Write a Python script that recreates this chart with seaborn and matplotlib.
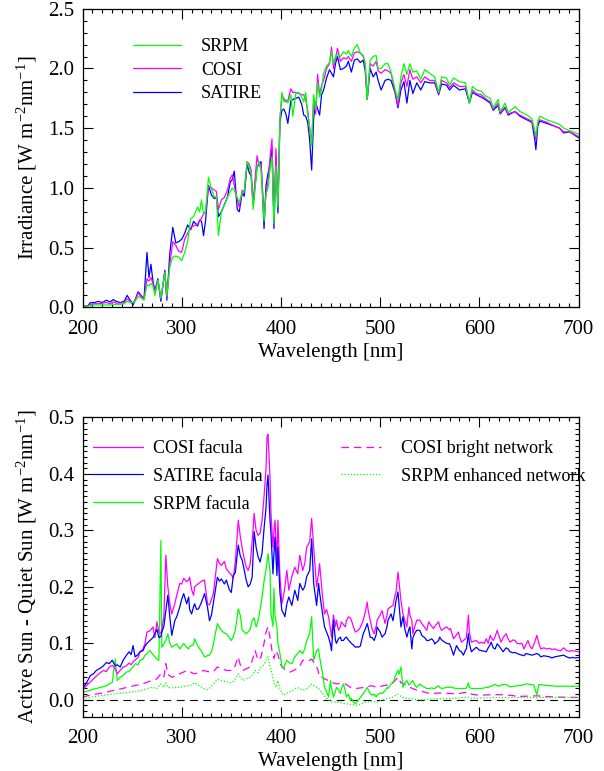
import matplotlib
matplotlib.use('Agg')
import matplotlib.pyplot as plt
from matplotlib.ticker import MultipleLocator, FormatStrFormatter
import seaborn as sns

# ---- top panel: spectral irradiance of the three reconstructions ----
wl_top = [200, 205, 208, 212, 216, 220, 224, 228, 231, 234,
          238, 242, 245, 248, 251, 253, 256, 259, 262, 265,
          267, 269, 271, 273, 276, 279, 283, 285, 288, 291,
          294, 297, 300, 303, 306, 309, 312, 316, 318, 320,
          322, 324, 327, 330, 333, 335, 337, 340, 343, 346,
          349, 351, 353, 356, 358, 361, 363, 366, 368, 370,
          372, 374, 376, 378, 380, 383, 385, 387, 389, 391,
          393, 395, 397, 399, 401, 403, 405, 407, 410, 412,
          415, 418, 421, 423, 425, 427, 429, 431, 433, 435,
          437, 439, 441, 443, 446, 449, 451, 453, 455, 457,
          460, 463, 466, 468, 471, 474, 477, 480, 483, 485,
          487, 490, 493, 496, 498, 501, 505, 508, 511, 515,
          518, 521, 524, 527, 530, 533, 537, 541, 545, 550,
          555, 559, 562, 567, 570, 574, 580, 586, 590, 593,
          597, 602, 606, 611, 614, 619, 621, 626, 629, 636,
          641, 648, 653, 656, 657, 659, 661, 668, 675, 681,
          685, 691, 700]

satire_top = [.01, .01, .04, .04, .05, .04, .06, .045, .065, .05,
              .04, .05, .10, .06, .02, .06, .13, .10, .07, .46,
              .25, .36, .22, .14, .24, .05, .31, .06, .45, .67,
              .54, .55, .57, .62, .69, .65, .72, .68, .73, .72,
              .60, .72, 1.02, .94, .91, .92, .76, .80, .86, .92,
              1.05, 1.07, 1.14, .82, .80, .96, .93, 1.20, 1.13, 1.10,
              .86, 1.02, 1.18, 1.20, 1.22, .66, 1.02, 1.12, 1.20, 1.34,
              .66, 1.26, .79, 1.55, 1.65, 1.66, 1.62, 1.54, 1.73, 1.74,
              1.75, 1.76, 1.70, 1.61, 1.60, 1.55, 1.40, 1.15, 1.58, 1.72,
              1.66, 1.61, 1.78, 1.82, 1.92, 1.99, 1.96, 1.93, 2.04, 2.10,
              1.99, 2.00, 2.02, 2.06, 1.97, 2.07, 2.08, 2.05, 2.07, 1.98,
              1.74, 2.00, 1.93, 1.97, 1.90, 1.82, 1.90, 1.91, 1.90, 1.80,
              1.67, 1.82, 1.89, 1.71, 1.90, 1.79, 1.88, 1.82, 1.89, 1.88,
              1.88, 1.78, 1.87, 1.86, 1.82, 1.86, 1.82, 1.83, 1.71, 1.80,
              1.78, 1.76, 1.74, 1.71, 1.65, 1.69, 1.62, 1.67, 1.61, 1.64,
              1.60, 1.57, 1.55, 1.40, 1.32, 1.52, 1.56, 1.54, 1.52, 1.50,
              1.46, 1.47, 1.42]

cosi_top = [.01, .01, .025, .03, .03, .035, .04, .03, .045, .035,
            .035, .04, .07, .05, .04, .06, .12, .09, .07, .24,
            .22, .25, .20, .13, .22, .07, .30, .08, .36, .55,
            .52, .47, .46, .57, .62, .67, .68, .70, .72, .75,
            .78, .80, 1.01, 1.00, .98, .97, .82, .90, .92, .98,
            1.08, 1.11, 1.02, .90, .84, .98, .96, 1.22, 1.20, 1.15,
            .86, 1.08, 1.27, 1.18, 1.20, .78, .95, 1.05, 1.25, 1.41,
            .72, 1.33, .86, 1.58, 1.77, 1.75, 1.72, 1.73, 1.83, 1.80,
            1.80, 1.79, 1.78, 1.78, 1.74, 1.65, 1.50, 1.37, 1.74, 1.62,
            1.95, 1.78, 1.86, 1.90, 2.00, 2.04, 2.18, 2.00, 2.08, 2.17,
            2.06, 2.09, 2.08, 2.10, 2.06, 2.13, 2.14, 2.13, 2.10, 2.04,
            1.75, 2.04, 2.02, 2.06, 1.98, 1.96, 1.99, 1.98, 1.96, 1.81,
            1.69, 1.88, 1.95, 1.85, 1.99, 1.91, 1.93, 1.88, 1.93, 1.90,
            1.90, 1.79, 1.90, 1.88, 1.84, 1.88, 1.85, 1.85, 1.72, 1.82,
            1.79, 1.78, 1.75, 1.72, 1.66, 1.71, 1.63, 1.68, 1.62, 1.64,
            1.61, 1.58, 1.56, 1.45, 1.40, 1.55, 1.57, 1.55, 1.52, 1.50,
            1.47, 1.47, 1.43]

srpm_top = [.01, .01, .015, .02, .02, .02, .02, .02, .025, .025,
            .025, .03, .05, .04, .04, .05, .09, .08, .06, .19,
            .18, .20, .18, .10, .23, .08, .29, .10, .34, .42,
            .43, .42, .39, .46, .55, .74, .76, .84, .80, .90,
            .78, .80, 1.09, .99, .92, .93, .60, .80, .86, .92,
            .97, 1.00, .98, .92, .88, .96, .98, 1.22, 1.18, 1.12,
            .82, 1.00, 1.18, 1.22, 1.14, .72, .95, 1.00, 1.15, 1.26,
            .70, 1.18, .84, 1.57, 1.80, 1.72, 1.74, 1.71, 1.78, 1.60,
            1.79, 1.80, 1.76, 1.72, 1.80, 1.62, 1.50, 1.35, 1.78, 1.66,
            1.88, 1.76, 1.83, 1.96, 2.02, 2.05, 2.14, 2.04, 2.10, 2.12,
            2.10, 2.14, 2.12, 2.15, 2.10, 2.17, 2.20, 2.13, 2.11, 2.04,
            1.74, 2.07, 2.10, 2.11, 2.00, 2.00, 2.04, 2.04, 1.97, 1.83,
            1.74, 1.93, 2.04, 1.95, 2.04, 1.97, 1.98, 1.91, 1.99, 1.96,
            1.93, 1.80, 1.93, 1.92, 1.86, 1.92, 1.89, 1.88, 1.71, 1.85,
            1.82, 1.81, 1.77, 1.75, 1.67, 1.74, 1.64, 1.71, 1.63, 1.68,
            1.64, 1.61, 1.58, 1.48, 1.43, 1.56, 1.60, 1.57, 1.55, 1.53,
            1.50, 1.48, 1.45]

# ---- bottom panel: active minus quiet sun ----
wl_fac = [200, 204, 208, 211, 214, 218, 221, 224, 227, 230,
          233, 235, 238, 241, 244, 247, 249, 251, 253, 256,
          258, 261, 263, 265, 268, 271, 273, 275, 277, 279,
          280, 282, 284, 286, 288, 290, 293, 295, 298, 300,
          302, 305, 307, 308, 310, 312, 313, 315, 317, 320,
          323, 326, 328, 330, 332, 334, 336, 338, 340, 343,
          345, 348, 350, 352, 354, 357, 359, 361, 363, 365,
          367, 369, 371, 373, 375, 377, 379, 381, 383, 385,
          386, 387, 389, 390, 392, 393, 394, 396, 397, 399,
          401, 403, 404, 406, 408, 411, 414, 417, 419, 422,
          424, 426, 429, 431, 433, 436, 438, 439, 442, 444,
          446, 448, 450, 451, 453, 455, 456, 458, 460, 461,
          463, 465, 466, 468, 470, 471, 473, 475, 477, 478,
          480, 483, 485, 487, 488, 490, 492, 494, 496, 497,
          500, 502, 505, 507, 508, 511, 513, 515, 516, 518,
          519, 521, 523, 525, 527, 529, 530, 532, 533, 535,
          537, 540, 542, 545, 547, 549, 552, 554, 555, 559,
          560, 562, 565, 567, 570, 571, 574, 577, 579, 580,
          582, 584, 586, 587, 589, 590, 592, 595, 597, 600,
          602, 605, 607, 609, 611, 612, 614, 616, 618, 620,
          622, 624, 627, 629, 631, 634, 636, 638, 641, 643,
          645, 647, 649, 651, 653, 655, 658, 660, 662, 665,
          668, 671, 673, 676, 679, 682, 685, 688, 691, 694,
          697, 700]

cosi_fac = [.017, .025, .032, .037, .042, .048, .052, .050, .058, .061,
            .055, .046, .052, .058, .060, .065, .062, .067, .070, .075,
            .085, .090, .100, .120, .122, .129, .110, .138, .120, .118,
            .125, .147, .256, .200, .170, .152, .170, .185, .206, .205,
            .215, .209, .212, .217, .195, .185, .200, .203, .206, .210,
            .212, .170, .168, .178, .188, .220, .250, .242, .238, .245,
            .232, .225, .222, .215, .244, .318, .290, .268, .250, .235,
            .229, .240, .280, .330, .300, .291, .295, .318, .360, .410,
            .466, .470, .395, .330, .270, .300, .318, .247, .318, .220,
            .170, .188, .200, .229, .194, .218, .235, .223, .256, .229,
            .241, .270, .280, .321, .270, .200, .225, .241, .182, .152,
            .160, .147, .125, .111, .150, .130, .141, .123, .130, .138,
            .133, .129, .140, .147, .145, .141, .130, .120, .122, .123,
            .128, .141, .155, .173, .158, .141, .125, .117, .130, .141,
            .150, .158, .135, .150, .161, .165, .167, .185, .190, .226,
            .210, .176, .152, .140, .129, .164, .150, .140, .117, .130,
            .141, .141, .135, .128, .123, .138, .130, .126, .130, .138,
            .130, .123, .127, .129, .124, .126, .108, .115, .120, .112,
            .102, .105, .108, .110, .150, .120, .102, .104, .105, .100,
            .102, .100, .108, .100, .114, .110, .105, .112, .123, .112,
            .102, .110, .117, .108, .102, .106, .105, .100, .099, .100,
            .090, .098, .105, .095, .090, .098, .114, .100, .090, .092,
            .090, .091, .089, .090, .088, .087, .092, .087, .086, .087,
            .086, .085]

satire_fac = [.020, .030, .043, .046, .052, .056, .060, .066, .064, .070,
              .060, .062, .058, .070, .078, .085, .080, .096, .076, .080,
              .085, .087, .095, .100, .105, .110, .117, .125, .110, .112,
              .120, .130, .158, .185, .147, .114, .140, .147, .164, .178,
              .188, .170, .182, .160, .152, .165, .170, .160, .161, .173,
              .188, .164, .140, .150, .173, .195, .217, .210, .214, .205,
              .212, .195, .190, .220, .225, .274, .255, .247, .230, .212,
              .200, .205, .217, .298, .270, .253, .244, .260, .303, .340,
              .380, .398, .318, .294, .223, .260, .288, .220, .270, .190,
              .158, .152, .147, .170, .182, .167, .194, .176, .206, .194,
              .200, .218, .229, .285, .206, .167, .206, .190, .152, .129,
              .120, .111, .098, .087, .141, .105, .100, .108, .111, .105,
              .105, .110, .111, .106, .102, .100, .097, .093, .094, .093,
              .095, .117, .125, .135, .128, .111, .110, .105, .115, .129,
              .120, .111, .117, .130, .141, .152, .140, .164, .175, .191,
              .170, .129, .147, .125, .111, .125, .129, .090, .110, .118,
              .123, .123, .114, .110, .105, .105, .108, .104, .099, .105,
              .111, .106, .102, .100, .099, .095, .079, .096, .090, .087,
              .085, .079, .088, .090, .117, .100, .085, .090, .093, .088,
              .087, .086, .085, .092, .098, .102, .092, .090, .099, .095,
              .090, .085, .092, .090, .085, .083, .084, .082, .080, .079,
              .078, .082, .081, .080, .079, .080, .082, .080, .076, .078,
              .077, .076, .074, .076, .077, .078, .079, .076, .074, .075,
              .074, .075]

srpm_fac = [.013, .015, .017, .019, .020, .022, .023, .025, .028, .031,
            .072, .034, .040, .043, .049, .050, .055, .058, .064, .062,
            .070, .072, .079, .082, .087, .080, .076, .072, .070, .282,
            .093, .099, .105, .117, .100, .093, .097, .099, .090, .095,
            .100, .093, .090, .094, .096, .098, .108, .100, .093, .086,
            .076, .078, .079, .085, .099, .118, .135, .128, .123, .118,
            .117, .110, .105, .112, .123, .161, .150, .123, .120, .117,
            .120, .125, .140, .145, .129, .140, .160, .182, .210, .230,
            .245, .259, .230, .152, .130, .197, .150, .129, .100, .082,
            .060, .055, .062, .070, .066, .064, .076, .082, .087, .082,
            .090, .105, .117, .147, .070, .087, .090, .076, .046, .022,
            .015, .005, .034, .020, .005, .015, .022, .018, .011, .020,
            .028, .015, .005, .010, -.001, .003, -.004, -.007, -.003, -.001,
            .004, .011, .016, .022, .018, .011, .008, .010, .005, .008,
            .012, .011, .016, .022, .020, .028, .030, .040, .045, .052,
            .045, .058, .022, .030, .034, .026, .028, .032, .034, .026,
            .022, .028, .025, .022, .020, .020, .021, .020, .020, .025,
            .022, .020, .021, .022, .022, .023, .021, .020, .020, .020,
            .020, .020, .020, .021, .030, .022, .020, .020, .020, .020,
            .020, .021, .022, .022, .024, .024, .026, .027, .025, .024,
            .026, .027, .027, .025, .023, .024, .024, .025, .025, .026,
            .027, .028, .028, .027, .027, .026, .008, .027, .027, .026,
            .025, .025, .025, .024, .024, .024, .024, .024, .024, .024,
            .024, .024]

wl_net = [200, 210, 220, 230, 240, 250, 260, 265, 270, 275,
          279, 282, 284, 286, 290, 295, 298, 303, 307, 310,
          313, 317, 322, 326, 329, 332, 336, 340, 345, 350,
          353, 357, 359, 362, 365, 369, 372, 374, 377, 380,
          383, 385, 387, 389, 391, 393, 395, 397, 399, 401,
          403, 406, 409, 413, 416, 419, 422, 426, 429, 431,
          434, 437, 439, 442, 444, 448, 451, 456, 460, 465,
          470, 476, 480, 485, 491, 497, 503, 508, 512, 516,
          518, 521, 524, 530, 537, 544, 550, 560, 570, 579,
          589, 592, 600, 612, 624, 641, 658, 675, 700]

cosi_net = [.005, .009, .012, .016, .020, .024, .028, .031, .034, .037,
            .046, .040, .064, .045, .040, .043, .046, .050, .052, .048,
            .046, .048, .052, .050, .049, .050, .058, .055, .052, .052,
            .056, .076, .062, .052, .055, .058, .075, .087, .070, .076,
            .100, .120, .129, .110, .087, .073, .087, .080, .065, .058,
            .055, .052, .049, .052, .055, .060, .070, .068, .070, .072,
            .064, .055, .040, .040, .037, .034, .031, .028, .029, .028,
            .022, .020, .021, .022, .025, .022, .025, .026, .028, .036,
            .040, .030, .028, .022, .017, .014, .011, .012, .011, .011,
            .014, .010, .008, .009, .009, .006, .007, .005, .004]

srpm_net = [.002, .005, .008, .010, .012, .014, .017, .020, .022, .020,
            .028, .022, .030, .022, .021, .022, .022, .024, .025, .026,
            .030, .026, .020, .018, .022, .028, .036, .034, .032, .030,
            .034, .046, .040, .034, .037, .040, .045, .052, .048, .058,
            .062, .070, .076, .060, .046, .030, .022, .034, .020, .012,
            .008, .012, .014, .018, .022, .020, .017, .020, .024, .028,
            .024, .022, .018, .011, .006, .000, -.004, -.004, -.005, -.007,
            -.008, -.010, -.008, -.004, -.003, -.004, .000, .002, .004, .008,
            .010, .006, .003, .002, .000, .000, .001, .002, .002, .003,
            .005, .003, .003, .004, .004, .004, .004, .004, .004]

GREEN = '#00ff00'
MAGENTA = '#ff00ff'
BLUE = '#0000ff'

sns.set_theme(style='ticks')
plt.rcParams['font.family'] = ['Liberation Serif', 'DejaVu Serif']
plt.rcParams['mathtext.fontset'] = 'custom'
plt.rcParams['mathtext.rm'] = 'Liberation Serif'
plt.rcParams['mathtext.it'] = 'Liberation Serif:italic'
plt.rcParams.update({'axes.edgecolor': 'black', 'xtick.color': 'black',
                     'ytick.color': 'black', 'text.color': 'black',
                     'axes.labelcolor': 'black'})

fig = plt.figure(figsize=(6.04, 7.71), dpi=100)
ax1 = fig.add_axes([0.1366, 0.6014, 0.8212, 0.3872])
ax2 = fig.add_axes([0.1366, 0.0704, 0.8212, 0.3882])

unit = r'[W $\mathrm{m}^{-2}\mathrm{nm}^{-1}$]'


def style_axes(ax, ymajor, yminor):
    ax.set_xlim(200, 700)
    ax.xaxis.set_major_locator(MultipleLocator(100))
    ax.xaxis.set_minor_locator(MultipleLocator(10))
    ax.yaxis.set_major_locator(MultipleLocator(ymajor))
    ax.yaxis.set_minor_locator(MultipleLocator(yminor))
    ax.yaxis.set_major_formatter(FormatStrFormatter('%.1f'))
    ax.tick_params(which='both', direction='in', top=True, right=True,
                   width=0.8, labelsize=15)
    ax.tick_params(axis='x', which='both', pad=9)
    ax.tick_params(axis='y', which='both', pad=6)
    ax.tick_params(which='major', length=7)
    ax.tick_params(which='minor', length=3)
    for sp in ax.spines.values():
        sp.set_linewidth(0.9)
    ax.set_xlabel('Wavelength [nm]', fontsize=15)
    ax.xaxis.set_label_coords(0.5, -0.118)
    ax.yaxis.set_label_coords(-0.088, 0.5)


lw = 0.9
# top panel
sns.lineplot(x=wl_top, y=satire_top, ax=ax1, color=BLUE, lw=lw, errorbar=None)
h_sat = ax1.lines[-1]
sns.lineplot(x=wl_top, y=cosi_top, ax=ax1, color=MAGENTA, lw=lw, errorbar=None)
h_cos = ax1.lines[-1]
sns.lineplot(x=wl_top, y=srpm_top, ax=ax1, color=GREEN, lw=lw, errorbar=None)
h_srp = ax1.lines[-1]
style_axes(ax1, 0.5, 0.1)
ax1.set_ylim(0, 2.5)
ax1.set_ylabel('Irradiance ' + unit, fontsize=15)
ax1.legend([h_srp, h_cos, h_sat], ['SRPM', 'COSI', 'SATIRE'], loc='upper left',
           bbox_to_anchor=(0.102, 0.902), frameon=False, fontsize=13,
           handlelength=2.67, handletextpad=1.1, labelspacing=0.36,
           borderpad=0, borderaxespad=0)

# bottom panel
ax2.axhline(0, color='black', lw=0.8, ls=(0, (7, 5)))
sns.lineplot(x=wl_net, y=cosi_net, ax=ax2, color=MAGENTA, lw=lw, ls=(0, (6, 4)), errorbar=None)
h_cnet = ax2.lines[-1]
sns.lineplot(x=wl_net, y=srpm_net, ax=ax2, color=GREEN, lw=lw, ls=(0, (1, 1.5)), errorbar=None)
h_snet = ax2.lines[-1]
sns.lineplot(x=wl_fac, y=srpm_fac, ax=ax2, color=GREEN, lw=lw, errorbar=None)
h_sfac = ax2.lines[-1]
sns.lineplot(x=wl_fac, y=cosi_fac, ax=ax2, color=MAGENTA, lw=lw, errorbar=None)
h_cfac = ax2.lines[-1]
sns.lineplot(x=wl_fac, y=satire_fac, ax=ax2, color=BLUE, lw=lw, errorbar=None)
h_bfac = ax2.lines[-1]
style_axes(ax2, 0.1, 0.01)
ax2.set_ylim(-0.03, 0.5)
ax2.set_ylabel('Active Sun - Quiet Sun ' + unit, fontsize=15)

leg_a = ax2.legend([h_cfac, h_bfac, h_sfac], ['COSI facula', 'SATIRE facula', 'SRPM facula'],
                   loc='upper left', bbox_to_anchor=(0.021, 0.925), frameon=False,
                   fontsize=13, handlelength=2.78, handletextpad=0.53, labelspacing=0.6,
                   borderpad=0, borderaxespad=0)
ax2.add_artist(leg_a)
ax2.legend([h_cnet, h_snet], ['COSI bright network', 'SRPM enhanced network'],
           loc='upper left', bbox_to_anchor=(0.521, 0.925), frameon=False,
           fontsize=13, handlelength=2.24, handletextpad=1.07, labelspacing=0.6,
           borderpad=0, borderaxespad=0)

fig.savefig('out.png', dpi=100)
